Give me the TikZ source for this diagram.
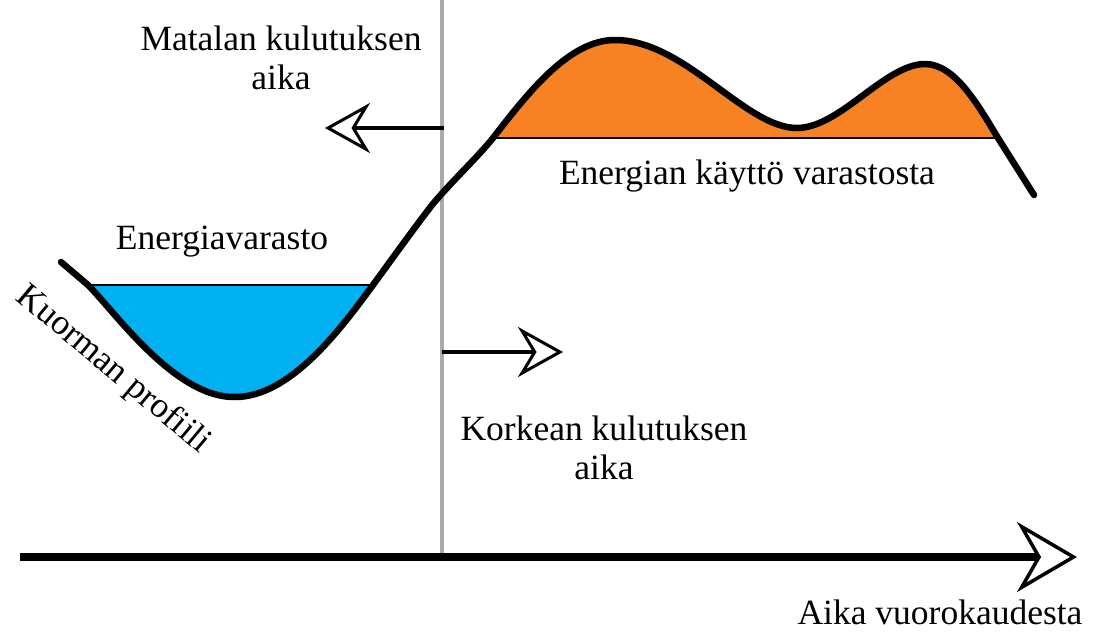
\documentclass[tikz,border=0pt]{standalone}
\usepackage{fontspec}
\setmainfont{Liberation Serif}
\usetikzlibrary{arrows.meta}
\definecolor{storeblue}{RGB}{0,176,240}
\definecolor{useorange}{RGB}{247,130,35}
\definecolor{splitgray}{RGB}{170,170,170}

\begin{document}
\begin{tikzpicture}[x=1pt,y=-1pt,
  lbl/.style={align=center,font=\fontsize{35.5}{39}\selectfont,inner sep=0pt},
  load/.style={line width=6.5pt,line cap=round,line join=round},
  level/.style={line width=1.5pt},
  divider/.style={splitgray,line width=3.5pt},
  periodarrow/.style={line width=4pt,-{Stealth[open,fill=white,length=45pt,width=50pt,inset=15pt,line width=3pt]}},
  timeaxis/.style={line width=8pt,-{Stealth[open,fill=white,length=60pt,width=70pt,inset=20pt,line width=3.5pt]}}]

\useasboundingbox (0,0) rectangle (1096,635);

% points of the load curve
\coordinate (start) at (61,262);
\coordinate (blueL) at (88,285);
\coordinate (low) at (235,397);
\coordinate (blueR) at (373,285);
\coordinate (bend) at (432,205);
\coordinate (orangeL) at (493,138);
\coordinate (peakA) at (615,40);
\coordinate (dip) at (797,128);
\coordinate (peakB) at (925,64);
\coordinate (orangeR) at (998,138);
\coordinate (stop) at (1034,195);

% dividing line between the two periods
\coordinate (divTop) at (442,0);
\coordinate (divBot) at (442,556);
\draw[divider] (divTop) -- (divBot);

% stored and used energy
\fill[storeblue] (blueL) .. controls (115,312) and (175,398) .. (low)
  .. controls (290,397) and (340,330) .. (blueR) -- cycle;
\fill[useorange] (orangeL) .. controls (530,90) and (570,40) .. (peakA)
  .. controls (685,40) and (745,128) .. (dip)
  .. controls (840,128) and (885,64) .. (peakB)
  .. controls (955,64) and (978,105) .. (orangeR) -- cycle;
\draw[level] (blueL) -- (blueR);
\draw[level] (orangeL) -- (orangeR);

\draw[load] (start) -- (blueL) .. controls (115,312) and (175,398) .. (low)
  .. controls (290,397) and (340,330) .. (blueR)
  .. controls (392,259) and (412,231) .. (bend)
  .. controls (452,181) and (476,159) .. (orangeL)
  .. controls (530,90) and (570,40) .. (peakA)
  .. controls (685,40) and (745,128) .. (dip)
  .. controls (840,128) and (885,64) .. (peakB)
  .. controls (955,64) and (978,105) .. (orangeR) -- (stop);

% period arrows
\coordinate (lowFrom) at (444,128);
\coordinate (lowTo) at (325,128);
\coordinate (highFrom) at (442,352);
\coordinate (highTo) at (563,352);
\draw[periodarrow] (lowFrom) -- (lowTo);
\draw[periodarrow] (highFrom) -- (highTo);

% time axis
\coordinate (axL) at (20,557);
\coordinate (axR) at (1077,557);
\draw[timeaxis] (axL) -- (axR);

\node[lbl] (lowtime) at (281,58) {Matalan kulutuksen\\aika};
\node[lbl] (use) at (747,176) {Energian käyttö varastosta};
\node[lbl] (store) at (222,242) {Energiavarasto};
\node[lbl,rotate=-40] (profile) at (113,370) {Kuorman profiili};
\node[lbl] (hightime) at (604,448) {Korkean kulutuksen\\aika};
\node[lbl] (day) at (940,612) {Aika vuorokaudesta};
\end{tikzpicture}
\end{document}
